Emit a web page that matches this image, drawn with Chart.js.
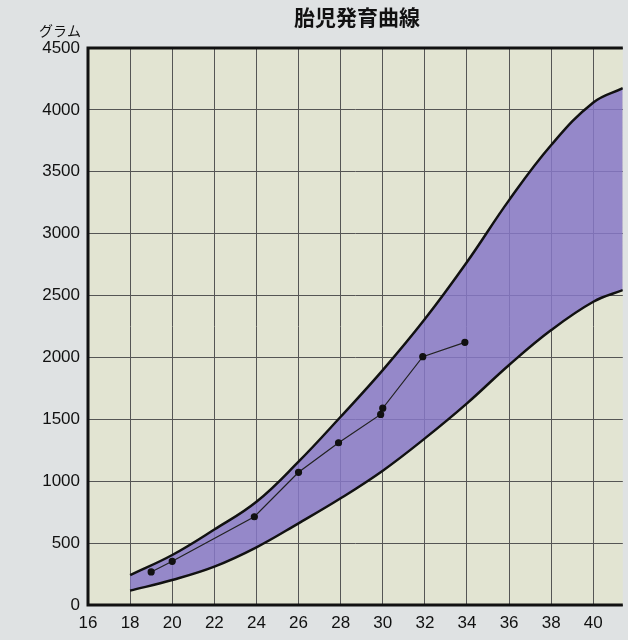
<!DOCTYPE html>
<html><head><meta charset="utf-8">
<script src="https://cdn.jsdelivr.net/npm/chart.js@4"></script>
<style>body{margin:0;background:#dfe2e3}#wrap{width:628px;height:640px}</style>
</head><body><div id="wrap"><canvas id="c"></canvas></div>
<script>
// 週数と体重（g）
const upperWeeks = [18, 20, 22, 24, 26, 28, 30, 32, 34, 36, 38, 40, 41.4];
const upperGrams = [242, 404, 610, 834, 1158, 1521, 1898, 2310, 2771, 3271, 3716, 4060, 4176];
const lowerWeeks = [18, 20, 22, 24, 26, 28, 30, 32, 34, 36, 38, 40, 41.4];
const lowerGrams = [116, 202, 310, 466, 660, 862, 1085, 1346, 1629, 1939, 2221, 2450, 2544];
const babyWeeks = [19, 20, 23.9, 26, 27.9, 29.9, 30, 31.9, 33.9];
const babyGrams = [267, 353, 713, 1072, 1311, 1540, 1590, 2006, 2122];
const xTicks = [16, 18, 20, 22, 24, 26, 28, 30, 32, 34, 36, 38, 40];

const pts = (xs, ys) => xs.map((x, i) => ({x: x, y: ys[i]}));

const deco = {
    id: 'deco',
    beforeDraw(chart) {
        const {ctx, chartArea: a} = chart;
        ctx.save();
        ctx.fillStyle = '#e2e4d2';
        ctx.fillRect(a.left, a.top, a.right - a.left, a.bottom - a.top);
        ctx.restore();
    },
    afterDraw(chart) {
        const {ctx, chartArea: a} = chart;
        ctx.save();
        ctx.strokeStyle = '#111';
        ctx.lineWidth = 3;
        ctx.beginPath();
        ctx.moveTo(a.right, a.top);
        ctx.lineTo(a.left, a.top);
        ctx.lineTo(a.left, a.bottom);
        ctx.lineTo(a.right, a.bottom);
        ctx.stroke();
        ctx.fillStyle = '#111';
        ctx.font = 'bold 21px "Noto Sans CJK JP"';
        ctx.textAlign = 'center';
        ctx.fillText('胎児発育曲線', 357, 25);
        ctx.font = '14px "Noto Sans CJK JP"';
        ctx.fillText('グラム', 60, 36);
        ctx.restore();
    }
};

new Chart(document.getElementById('c'), {
    type: 'line',
    data: {
        datasets: [
            {data: pts(babyWeeks, babyGrams), borderColor: '#222', borderWidth: 1.2, pointRadius: 3,
             pointBackgroundColor: '#111', pointBorderColor: '#111', fill: false, tension: 0},
            {data: pts(upperWeeks, upperGrams), borderColor: '#111', borderWidth: 2.5, pointRadius: 0,
             tension: 0.4, fill: '+1', backgroundColor: 'rgba(135,120,200,0.85)'},
            {data: pts(lowerWeeks, lowerGrams), borderColor: '#111', borderWidth: 2.5, pointRadius: 0,
             tension: 0.4, fill: false}
        ]
    },
    options: {
        responsive: true,
        maintainAspectRatio: false,
        animation: false,
        layout: {padding: {top: 48, right: 0, left: 0, bottom: 0}},
        plugins: {legend: {display: false}, tooltip: {enabled: false}, filler: {drawTime: 'beforeDatasetsDraw'}},
        scales: {
            x: {
                type: 'linear', min: 16, max: 41.4,
                afterBuildTicks: (s) => { s.ticks = xTicks.map(v => ({value: v})); },
                afterFit: (s) => { s.height = 35; },
                grid: {color: '#555', lineWidth: 1, drawTicks: false},
                border: {display: false},
                ticks: {color: '#111', font: {size: 17, family: 'Liberation Sans'}, padding: 8, maxRotation: 0}
            },
            y: {
                min: 0, max: 4500,
                afterFit: (s) => { s.width = 88; },
                grid: {color: '#555', lineWidth: 1, drawTicks: false},
                border: {display: false},
                ticks: {stepSize: 500, color: '#111', font: {size: 17, family: 'Liberation Sans'}, padding: 8,
                        callback: (v) => String(v)}
            }
        }
    },
    plugins: [deco]
});
</script></body></html>
